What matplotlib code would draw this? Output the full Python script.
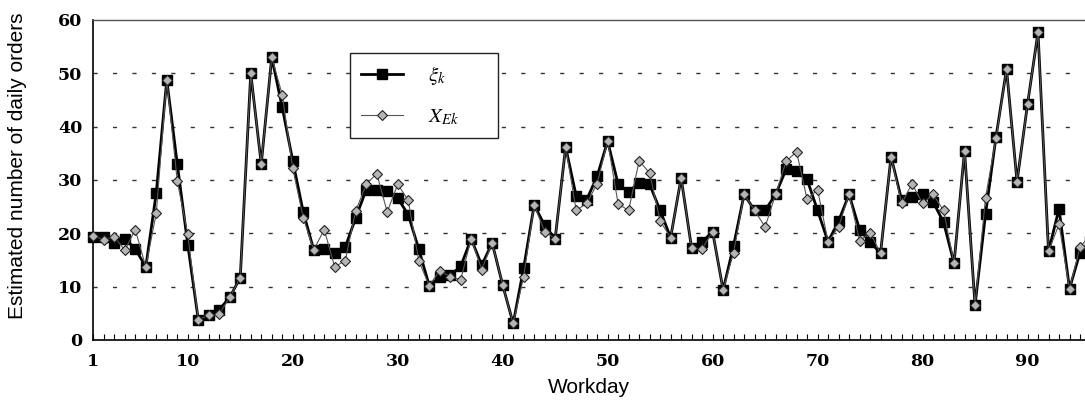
import matplotlib
matplotlib.use("Agg")
import matplotlib.pyplot as plt
import numpy as np

plt.rcParams['mathtext.fontset'] = 'stix'

days = list(range(1, 97))
xi_k = [19.3, 19.4, 18.2, 19.0, 17.1, 13.7, 27.6, 48.8, 33.0, 17.9,
        3.8, 4.6, 5.7, 8.0, 11.7, 50.0, 33.0, 53.0, 43.6, 33.6,
        24.0, 16.9, 17.1, 16.4, 17.4, 22.9, 28.2, 28.2, 28.0, 26.6,
        23.5, 17.1, 10.2, 11.8, 12.1, 13.8, 19.0, 14.0, 18.2, 10.3,
        3.1, 13.5, 25.3, 21.5, 19.0, 36.2, 27.0, 26.3, 30.7, 37.3,
        29.2, 27.8, 29.5, 29.2, 24.3, 19.2, 30.4, 17.2, 18.4, 20.3,
        9.4, 17.7, 27.3, 24.3, 24.3, 27.3, 32.0, 31.7, 30.1, 24.3,
        18.4, 22.3, 27.3, 20.7, 18.4, 16.3, 34.4, 26.3, 26.8, 27.3,
        25.9, 22.1, 14.4, 35.5, 6.5, 23.6, 38.1, 50.8, 29.7, 44.2,
        57.7, 16.6, 24.6, 9.6, 16.4, 18.5]
x_ek = [19.5, 18.8, 19.4, 16.8, 20.7, 13.7, 23.8, 48.8, 29.8, 19.8,
        3.8, 4.6, 4.9, 8.0, 11.7, 50.0, 33.0, 53.0, 46.0, 32.2,
        22.9, 16.9, 20.7, 13.7, 14.9, 24.2, 29.2, 31.2, 24.0, 29.2,
        26.2, 14.9, 10.2, 13.0, 11.9, 11.3, 19.0, 13.2, 18.2, 10.3,
        3.1, 11.9, 25.3, 20.3, 19.0, 36.2, 24.3, 25.6, 29.3, 37.3,
        25.5, 24.3, 33.6, 31.3, 22.3, 19.2, 30.4, 17.2, 17.1, 20.3,
        9.4, 16.4, 27.3, 24.3, 21.2, 27.3, 33.5, 35.3, 26.4, 28.2,
        18.4, 21.2, 27.3, 18.6, 20.1, 16.3, 34.4, 25.6, 29.3, 25.6,
        27.3, 24.3, 14.4, 35.5, 6.5, 26.7, 37.8, 50.8, 29.7, 44.2,
        57.7, 16.6, 21.7, 9.6, 17.4, 19.8]
x_ticks = [1, 10, 20, 30, 40, 50, 60, 70, 80, 90]
y_ticks = [0, 10, 20, 30, 40, 50, 60]

W, H = 1085, 403
fig = plt.figure(figsize=(W / 100, H / 100), dpi=100)
ax_left, ax_right, ax_top, ax_bot = 93.3, 1085, 20, 340
ax = fig.add_axes([ax_left / W, 1 - ax_bot / H, (ax_right - ax_left) / W, (ax_bot - ax_top) / H])

spacing = (1080 - 93.3) / 94
ax.set_xlim(1, 1 + (ax_right - ax_left) / spacing)
ax.set_ylim(0, 60)

# grid
for yv in y_ticks[1:-1]:
    ax.axhline(yv, color='#333333', lw=1.0, linestyle=(0, (3.0, 11.0)), zorder=1)

ax.plot(days, xi_k, color='black', lw=2.0, marker='s', markersize=7.5,
        markerfacecolor='black', markeredgecolor='black', label=r'$\xi_k$' + '     ',
        clip_on=False, zorder=3)
ax.plot(days, x_ek, color='#555555', lw=0.8, marker='D', markersize=5.5,
        markerfacecolor='#b5b5b5', markeredgecolor='#222222', markeredgewidth=0.8,
        label=r'$X_{Ek}$' + '     ', clip_on=False, zorder=4)

ax.spines['right'].set_visible(False)
ax.spines['top'].set_color('#555555')
ax.spines['top'].set_linewidth(1.0)
ax.spines['left'].set_linewidth(1.2)
ax.spines['bottom'].set_linewidth(1.2)

ax.set_xticks(x_ticks)
ax.set_xticks(days[:95], minor=True)
ax.set_yticks(y_ticks)
ax.tick_params(axis='x', which='both', direction='in', length=4, width=0.8, pad=9)
ax.tick_params(axis='y', which='both', length=0, pad=8)
for lab in ax.get_xticklabels() + ax.get_yticklabels():
    lab.set_fontfamily('DejaVu Serif')
    lab.set_fontweight('bold')
    lab.set_fontsize(12.5)

ax.set_xlabel('Workday', fontsize=15, family='Liberation Sans', labelpad=6)
ax.set_ylabel('Estimated number of daily orders', fontsize=15, family='Liberation Sans')
ax.yaxis.set_label_coords((27 - ax_left) / (ax_right - ax_left), (ax_bot - 166) / (ax_bot - ax_top))

leg = ax.legend(loc='upper left', bbox_to_anchor=(350 / W, 1 - 53 / H),
                bbox_transform=fig.transFigure, borderaxespad=0,
                fontsize=15, fancybox=False, framealpha=1, edgecolor='#222222',
                handlelength=2.0, handletextpad=1.2, labelspacing=0.9,
                borderpad=0.55)
leg.get_frame().set_linewidth(1.0)

fig.savefig('out.png', dpi=100)
